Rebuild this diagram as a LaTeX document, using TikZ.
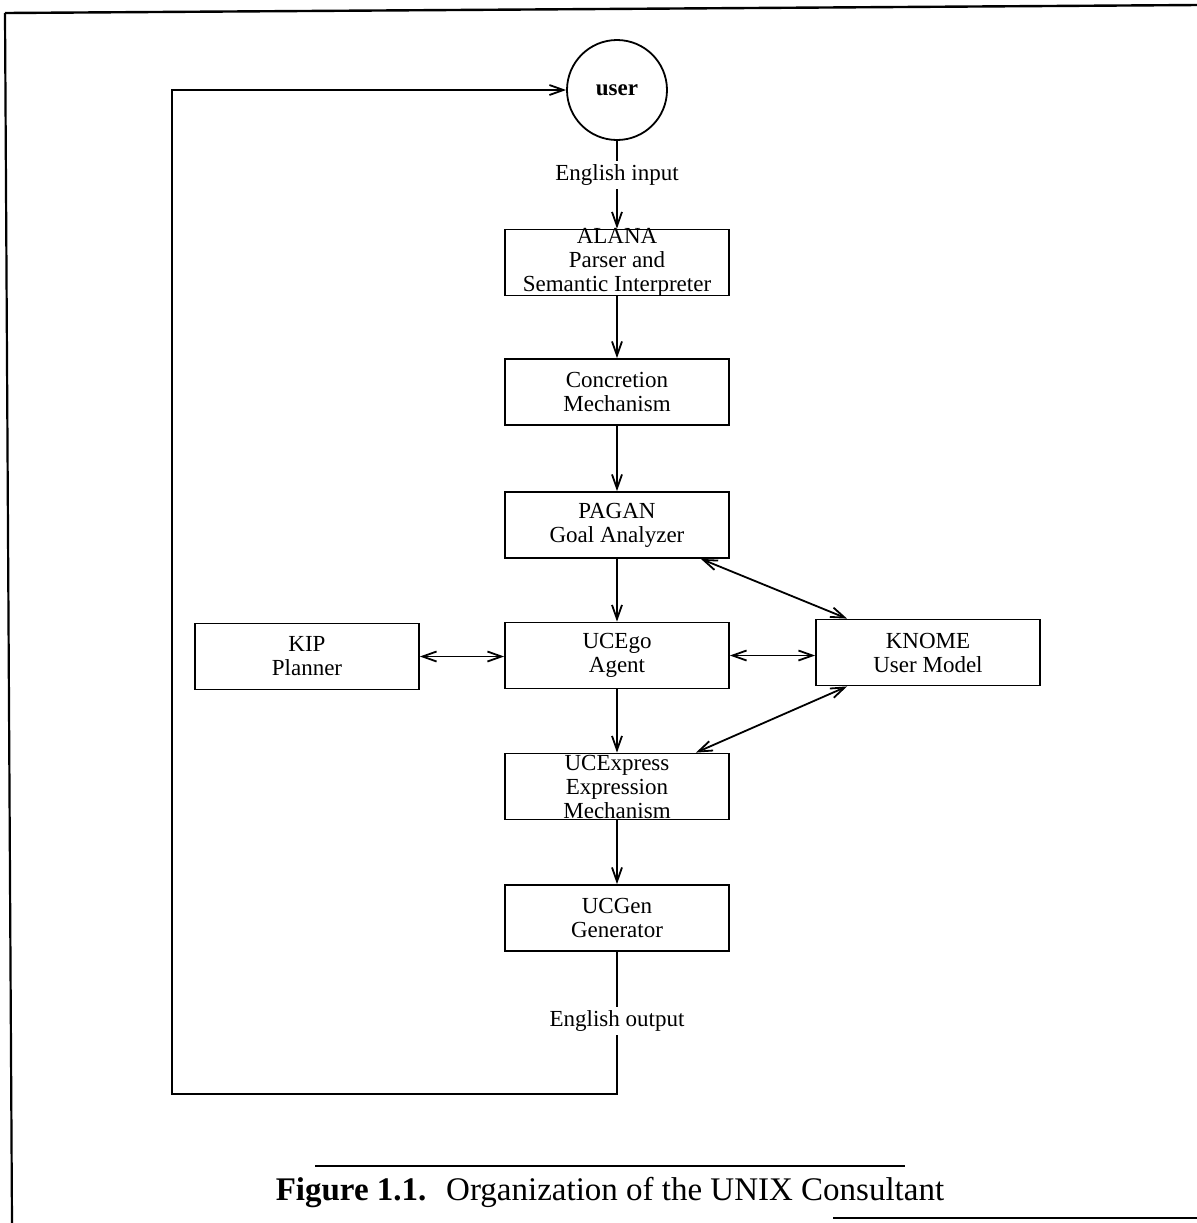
\documentclass[tikz,border=0pt]{standalone}
\usepackage{fontspec}
\setmainfont{Liberation Serif}
\usetikzlibrary{arrows.meta}
\begin{document}
\begin{tikzpicture}[x=0.5pt,y=-0.5pt,line width=0.9pt,
		box/.style={draw, minimum width=112pt, minimum height=33pt, inner sep=0pt, align=center, font=\fontsize{11.5}{12}\selectfont},
		tallbox/.style={box, inner ysep=-2pt},
		lbl/.style={inner sep=1.5pt, font=\fontsize{11.5}{12}\selectfont},
		arr/.style={-{Straight Barb[length=7pt,width=5pt]}},
		darr/.style={{Straight Barb[length=7pt,width=5pt]}-{Straight Barb[length=7pt,width=5pt]}}]
		\useasboundingbox (0,0) rectangle (1197,1223);
		\draw [black, line width=1.2pt] (5,13) -- (1197,5);
		\draw [black, line width=1.1pt] (5,13) -- (12,1223);
		\draw [black, line width=1.1pt] (833,1218) -- (1197,1218);
		\node [draw, circle, minimum size=50pt, inner sep=0pt, font=\bfseries\fontsize{11.5}{12}\selectfont] (user) at (617,90) {user};
		\node [lbl] (ein) at (617,175) {English input};
		\node [tallbox] (alana) at (617,262.5) {ALANA\\Parser and\\Semantic Interpreter};
		\node [box] (concr) at (617,392) {Concretion\\Mechanism};
		\node [box] (pagan) at (617,525) {PAGAN\\Goal Analyzer};
		\node [box] (ucego) at (617,655.5) {UCEgo\\Agent};
		\node [box] (kip) at (307,656.5) {KIP\\Planner};
		\node [box] (knome) at (928,652.5) {KNOME\\User Model};
		\node [tallbox] (ucexp) at (617,786.5) {UCExpress\\Expression\\Mechanism};
		\node [box] (ucgen) at (617,918) {UCGen\\Generator};
		\node [lbl] (eout) at (617,1021) {English output};
		\coordinate (lb) at (172,1094);
		\coordinate (lt) at (172,90);
		\draw [black] (user) -- (ein);
		\draw [black, arr] (ein) -- (alana);
		\draw [black, arr] (alana) -- (concr);
		\draw [black, arr] (concr) -- (pagan);
		\draw [black, arr] (pagan) -- (ucego);
		\draw [black, arr] (ucego) -- (ucexp);
		\draw [black, arr] (ucexp) -- (ucgen);
		\draw [black, darr] (kip.east) -- (kip.east -| ucego.west);
		\draw [black, darr] (ucego.east) -- (ucego.east -| knome.west);
		\draw [black, darr] ([xshift=-14.5pt]pagan.south east) -- ([xshift=16pt]knome.north west);
		\draw [black, darr] ([xshift=16pt]knome.south west) -- ([xshift=-17pt]ucexp.north east);
		\draw [black] (ucgen) -- (eout);
		\draw [black, arr] (eout) -- (eout |- lb) -- (lb) -- (lt) -- (user);
		\draw [black, line width=1.1pt] (315,1166) -- (905,1166);
		\node [inner sep=0pt, font=\fontsize{16.5}{18}\selectfont] (cap) at (610,1193) {\textbf{Figure 1.1.}\hspace{0.6em}Organization of the UNIX Consultant};
	\end{tikzpicture}
\end{document}
